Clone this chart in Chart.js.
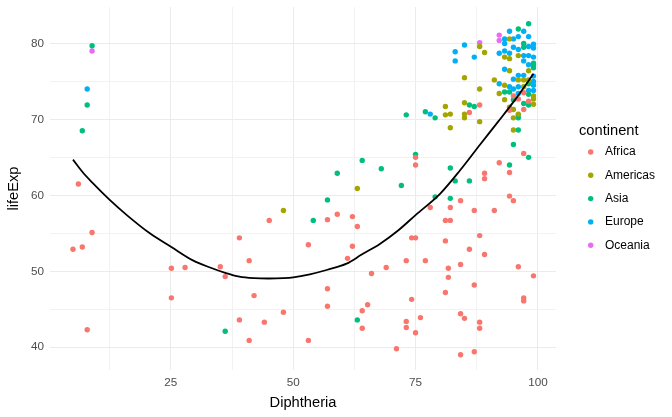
<!DOCTYPE html>
<html><head><meta charset="utf-8">
<script src="https://cdn.jsdelivr.net/npm/chart.js@4"></script>
<style>html,body{margin:0;padding:0;background:#fff}</style>
</head><body>
<canvas id="c" width="672" height="417" style="display:block;width:672px;height:417px"></canvas>
<script>
const continents = ['Africa','Americas','Asia','Europe','Oceania'];
const colors = ['#F8766D','#A3A500','#00BF7D','#00B0F6','#E76BF3'];

const africaX = [6.1,8.9,5.0,6.9,7.9,45.1,39.0,41.0,35.1,25.1,27.9,36.1,25.1,42.0,48.0,39.0,44.1,41.0,
  75.0,75.0,57.0,59.0,62.1,63.1,74.2,75.0,78.0,53.1,62.1,61.1,73.1,77.0,69.0,66.0,81.1,81.7,81.7,81.1,57.0,57.0,65.2,64.1,64.1,74.2,76.0,73.1,73.1,75.0,53.1,71.1,
  97.1,92.1,89.1,94.2,89.1,94.2,95.0,84.2,82.1,87.0,91.1,81.1,82.1,88.1,86.0,89.1,
  84.2,96.0,99.1,87.0,97.1,97.1,84.2,85.0,88.1,88.1,87.0,84.2,
  88.1,86.0,97.1,95.0,96.0,98.1,94.2,97.1];
const africaY = [61.5,55.1,52.9,53.2,42.3,56.7,54.4,51.4,50.6,50.4,50.5,49.3,46.5,46.8,44.6,43.6,43.3,40.9,
  65.0,64.0,56.8,57.5,57.2,55.9,54.4,54.4,58.4,53.5,53.3,51.7,51.4,51.4,50.5,49.7,54.0,50.4,49.2,47.2,47.7,45.4,45.6,44.8,42.5,46.3,43.9,43.4,42.6,41.9,40.9,39.8,
  65.5,64.3,62.9,63.0,62.2,59.9,59.3,59.3,58.4,58.0,58.0,56.7,56.7,54.7,52.9,52.2,
  50.9,50.6,49.4,48.2,46.5,46.1,44.4,43.8,43.3,42.5,39.4,39.0,
  71.9,70.9,73.5,73.1,72.7,72.4,71.2,71.3];

const americasX = [48.0,63.1,85.0,88.1,91.1,88.1,89.1,81.1,81.1,82.1,82.1,85.0,85.0,85.0,88.1,
  94.2,96.0,93.2,94.2,94.2,98.1,96.0,97.1,98.1,93.2,97.1,92.1,99.1,99.1,93.2,99.1,94.2,95.0,96.0,95.0,95.0];
const americasY = [58.0,60.9,75.5,74.0,75.2,79.6,78.8,71.7,70.6,70.7,68.9,72.2,70.7,70.2,69.7,
  80.6,78.4,78.2,78.0,76.4,76.4,75.2,75.2,75.2,74.5,74.3,73.4,73.1,72.7,72.6,72.0,71.6,71.3,70.7,70.2,68.6];

const asiaX = [8.9,7.9,6.9,36.1,73.1,77.0,79.0,75.0,64.1,68.0,59.0,72.1,57.0,54.1,79.0,63.1,
  96.0,95.0,98.1,94.2,82.1,83.1,86.0,82.1,86.0,87.0,
  98.1,96.0,97.1,97.1,99.1,99.1,99.1,98.1,93.2,94.2,98.1,95.0,98.1,97.1,96.0,96.0];
const asiaY = [79.7,71.9,68.5,42.1,70.6,71.0,70.2,65.4,64.6,63.5,62.9,61.3,59.4,56.7,59.8,43.6,
  68.6,66.7,65.0,64.0,63.6,61.9,61.9,59.6,71.9,71.7,
  82.6,81.9,80.0,79.5,77.4,77.2,76.8,74.7,73.6,73.6,73.3,72.6,71.9,72.1,70.6,70.2];

const europeX = [7.9,78.0,85.0,83.1,83.1,87.0,94.2,97.1,96.0,93.2,95.0,98.1,93.2,99.1,98.1,95.0,96.0,99.1,
  92.1,93.2,94.2,97.1,98.1,99.1,97.1,98.1,93.2,96.0,97.1,99.1,95.0,92.1,99.1,99.1,94.2,96.0,95.0,98.1,99.1,96.0];
const europeY = [74.0,70.7,79.8,78.9,77.7,78.2,81.6,81.6,80.9,80.6,80.6,80.9,80.0,79.9,79.6,79.5,79.2,79.4,
  78.7,79.0,78.7,78.4,78.4,78.2,77.7,77.2,76.6,75.8,75.8,75.7,75.3,74.7,75.0,74.5,74.3,74.3,74.0,73.8,73.8,73.4];

const oceaniaX = [8.9,88.1,92.1,92.1];
const oceaniaY = [79.0,80.1,81.1,80.4];

const smoothX = [5,6.9,8.9,12.5,16,20.7,25.1,29.6,33,36.1,39,42,45,48,50,53.4,57,60.9,64,67.7,71.5,75,80,84.1,88.2,92,95.7,99.1];
const smoothY = [64.7,63.1,61.7,59.4,57.4,55.0,53.2,51.4,50.5,49.8,49.3,49.1,49.05,49.1,49.2,49.6,50.2,51.0,52.2,53.6,55.4,57.4,60.2,63.3,66.7,69.8,72.9,76.0];

const xTicks = [12.5,25,37.5,50,62.5,75,87.5,100];
const xLabeled = [25,50,75,100];
const yTicks = [40,45,50,55,60,65,70,75,80];
const yLabeled = [40,50,60,70,80];

const seriesX = [africaX, americasX, asiaX, europeX, oceaniaX];
const seriesY = [africaY, americasY, asiaY, europeY, oceaniaY];

const FONT = "'Liberation Sans', Arial, sans-serif";

const datasets = [{
  type: 'line', label: 'smooth', order: 0,
  data: smoothX.map((x,i)=>({x, y: smoothY[i]})),
  borderColor: '#000', borderWidth: 1.8, pointRadius: 0, fill: false,
  cubicInterpolationMode: 'monotone'
}];
continents.forEach((c,i)=>{
  datasets.push({
    type: 'scatter', label: c, order: 1,
    data: seriesX[i].map((x,j)=>({x, y: seriesY[i][j]})),
    backgroundColor: colors[i], borderWidth: 0, pointRadius: 2.7, pointHoverRadius: 2.7
  });
});

const legendPlugin = {
  id: 'ggLegend',
  afterDraw(chart) {
    const ctx = chart.ctx;
    ctx.save();
    ctx.textBaseline = 'middle';
    ctx.textAlign = 'left';
    ctx.fillStyle = '#000';
    ctx.font = '14.7px ' + FONT;
    ctx.fillText('continent', 579, 131);
    ctx.font = '12px ' + FONT;
    chart.data.datasets.filter(d=>d.type==='scatter').forEach((d,i)=>{
      const y = 152 + 23.3*i;
      ctx.beginPath();
      ctx.fillStyle = d.backgroundColor;
      ctx.arc(590.7, y, 2.7, 0, Math.PI*2);
      ctx.fill();
      ctx.fillStyle = '#000';
      ctx.fillText(d.label, 605, y);
    });
    ctx.restore();
  }
};

new Chart(document.getElementById('c'), {
  data: { datasets },
  options: {
    responsive: false, animation: false, devicePixelRatio: 1,
    layout: { padding: { left: 0, right: 116, top: 7, bottom: 0 } },
    plugins: { legend: { display: false }, tooltip: { enabled: false } },
    scales: {
      x: {
        type: 'linear', min: 0.3, max: 103.7,
        afterBuildTicks: s => { s.ticks = xTicks.map(v=>({value:v})); },
        afterFit: s => { s.height = 47; s.paddingLeft = 0; s.paddingRight = 0; },
        border: { display: false },
        grid: { drawTicks: false, tickLength: 0, lineWidth: 1,
          color: c => (c.tick && xLabeled.includes(c.tick.value)) ? '#EBEBEB' : '#F2F2F2' },
        ticks: { autoSkip: false, maxRotation: 0, padding: 6, color: '#4D4D4D',
          font: { family: FONT, size: 11.7 },
          callback: v => xLabeled.includes(v) ? String(v) : '' },
        title: { display: true, text: 'Diphtheria', color: '#000',
          font: { family: FONT, size: 14.7 }, padding: { top: 0, bottom: 5.5 } }
      },
      y: {
        type: 'linear', min: 37.0, max: 84.8,
        afterBuildTicks: s => { s.ticks = yTicks.map(v=>({value:v})); },
        afterFit: s => { s.width = 50; s.paddingTop = 0; s.paddingBottom = 0; },
        border: { display: false },
        grid: { drawTicks: false, tickLength: 0, lineWidth: 1,
          color: c => (c.tick && yLabeled.includes(c.tick.value)) ? '#EBEBEB' : '#F2F2F2' },
        ticks: { autoSkip: false, padding: 6, color: '#4D4D4D',
          font: { family: FONT, size: 11.7 },
          callback: v => yLabeled.includes(v) ? String(v) : '' },
        title: { display: true, text: 'lifeExp', color: '#000',
          font: { family: FONT, size: 14.7 }, padding: { top: 5.5, bottom: 0 } }
      }
    }
  },
  plugins: [legendPlugin]
});
</script>
</body></html>
